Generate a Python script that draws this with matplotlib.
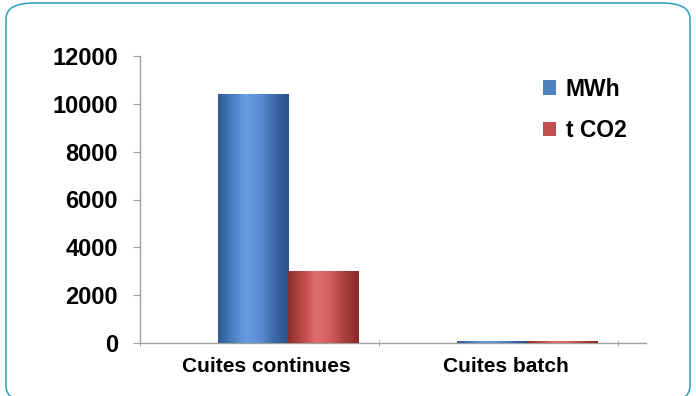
import numpy as np
import matplotlib
matplotlib.use("Agg")
import matplotlib.pyplot as plt
from matplotlib.patches import FancyBboxPatch, Patch
from matplotlib.colors import LinearSegmentedColormap

categories = ["Cuites continues", "Cuites batch"]
series_names = ["MWh", "t CO2"]
mwh = [10400, 100]
tco2 = [3000, 90]
yticks = [0, 2000, 4000, 6000, 8000, 10000, 12000]

plt.rcParams['font.family'] = ['Liberation Sans', 'DejaVu Sans']

W, H = 696, 396
fig = plt.figure(figsize=(W / 100, H / 100), dpi=100)
fig.patch.set_facecolor("white")

# rounded frame (bottom edge falls just outside the image)
frame = FancyBboxPatch((6 / W, -6 / H), (690 - 6) / W, (H + 3) / H,
                       boxstyle="round,pad=0,rounding_size=0.04",
                       transform=fig.transFigure, fill=False,
                       edgecolor="#3ba3c6", linewidth=1.2)
fig.patches.append(frame)

x0, x1 = 140, 646
y0, y1 = 343, 56
ax = fig.add_axes([x0 / W, (H - y0) / H, (x1 - x0) / W, (y0 - y1) / H])
unit = 239.0
ax.set_xlim(0, (x1 - x0) / unit)
ax.set_ylim(0, 12000)

centers = np.arange(len(categories)) + 0.62
bw = 0.293

blue_cmap = LinearSegmentedColormap.from_list(
    "b", ["#2e5a93", "#4a7fc0", "#6a9ee0", "#5a8dd0", "#3a6aa8", "#2b5288"])
red_cmap = LinearSegmentedColormap.from_list(
    "r", ["#8e2f2c", "#bb4a47", "#e0706c", "#d05f5b", "#ab3e3b", "#852a28"])

b1 = ax.bar(centers - bw / 2, mwh, bw, color="#4f81bd", zorder=2)
b2 = ax.bar(centers + bw / 2, tco2, bw, color="#c0504d", zorder=2)

grad = np.linspace(0, 1, 256).reshape(1, -1)
for bars, cmap in ((b1, blue_cmap), (b2, red_cmap)):
    for rect in bars:
        x, y = rect.get_x(), rect.get_y()
        w, h = rect.get_width(), rect.get_height()
        im = ax.imshow(grad, cmap=cmap, aspect="auto",
                       extent=(x, x + w, y, y + h), zorder=3,
                       interpolation="bilinear")
        im.set_clip_path(rect)
ax.set_xlim(0, (x1 - x0) / unit)
ax.set_ylim(0, 12000)

for s in ["top", "right"]:
    ax.spines[s].set_visible(False)
for s in ["left", "bottom"]:
    ax.spines[s].set_color("#a0a0a0")
    ax.spines[s].set_linewidth(1.0)

ax.set_yticks(yticks)
ax.set_yticklabels([str(v) for v in yticks], fontsize=17, fontweight="bold")
ax.tick_params(axis="y", length=5, color="#a0a0a0", pad=11)

ax.set_xticks([0, 1, 2], minor=True)
ax.tick_params(axis="x", which="minor", length=5, color="#a0a0a0", direction="inout")
ax.set_xticks(np.arange(len(categories)) + 0.53)
ax.set_xticklabels(categories, fontsize=15, fontweight="bold")
ax.tick_params(axis="x", which="major", length=0, pad=10)

handles = [Patch(facecolor="#4f81bd"), Patch(facecolor="#c0504d")]
leg = fig.legend(handles, series_names, loc="upper left",
                 bbox_to_anchor=(522 / W, 1 - 57 / H), frameon=False,
                 prop={"size": 16.5, "weight": "bold"},
                 handlelength=0.6, handleheight=0.6, handletextpad=0.4,
                 labelspacing=0.8)

fig.savefig("out.png", dpi=100, facecolor="white")
